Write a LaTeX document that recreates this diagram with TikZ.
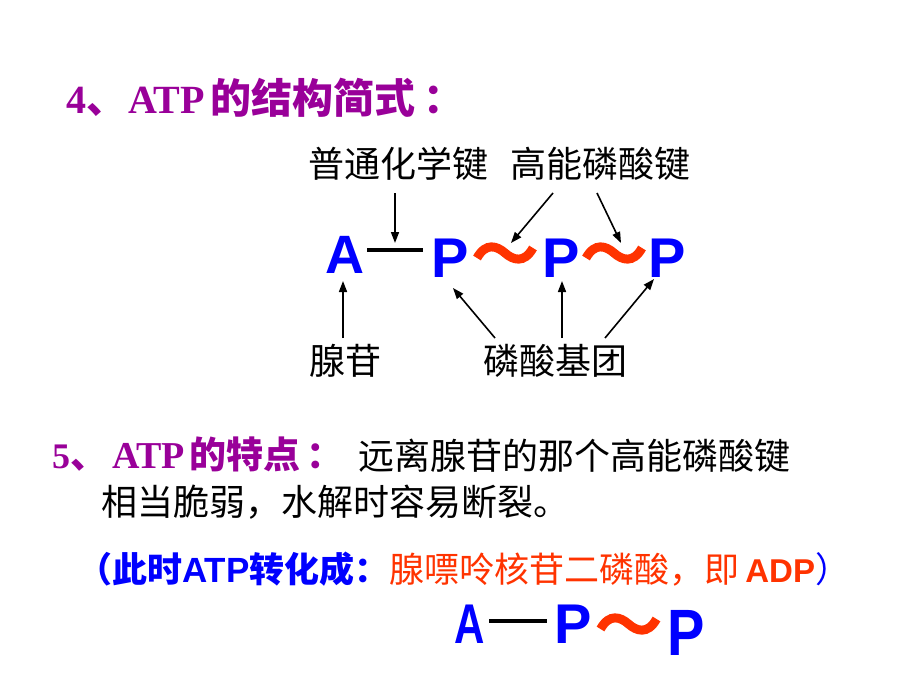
\documentclass[tikz,border=0pt]{standalone}
\usepackage{fontspec}
\setmainfont{Liberation Serif}
\newfontfamily\cjk{Noto Sans CJK SC}
\newfontfamily\arialf{Liberation Sans}
\newfontfamily\tnr{Liberation Serif}
\usetikzlibrary{arrows.meta}
\definecolor{ttlpurple}{RGB}{153,0,153}
\definecolor{atpblue}{RGB}{0,0,255}
\definecolor{wavered}{RGB}{255,51,0}
\tikzset{
  txt/.style={inner sep=0pt, outer sep=0pt},
  lbl/.style={txt, anchor=base, font=\cjk\fontsize{36}{40}\selectfont},
  letter/.style={txt, anchor=base, text=atpblue},
  arr/.style={line width=1.6pt, -{Stealth[length=11pt,width=8pt,inset=0pt]}},
  bondline/.style={line width=4pt},
  pics/wave/.style={code={
    \draw[wavered, line width=9pt]
      (-28,5) .. controls (-19,-11) and (-8,-7) .. (0,0)
      .. controls (8,7) and (19,11) .. (28,-5);
  }}
}
\begin{document}
\begin{tikzpicture}[x=1pt,y=-1pt]
\useasboundingbox (0,0) rectangle (920,690);
\fill[white] (0,0) rectangle (920,690);

% title 4
\node[txt, anchor=base west, text=ttlpurple] (t4) at (66,113.5)
  {\fontsize{40}{42}\selectfont\tnr\bfseries 4{\cjk\bfseries 、}\hspace{2pt}ATP\hspace{5pt}{\cjk\bfseries\fontsize{41}{42}\selectfont 的结构简式\hspace{8pt}：}};

% labels
\node[lbl] (lab1) at (398,177.5) {普通化学键};
\node[lbl] (lab2) at (600,177.5) {高能磷酸键};
\node[lbl] (lab3) at (345,374.5) {腺苷};
\node[lbl] (lab4) at (555,374.5) {磷酸基团};

% formula ATP
\node[letter, font=\arialf\bfseries\fontsize{54}{56}\selectfont] (A1) at (345,273) {A};
\node[letter, font=\arialf\bfseries\fontsize{56}{60}\selectfont] (P1) at (450,277) {P};
\node[letter, font=\arialf\bfseries\fontsize{56}{60}\selectfont] (P2) at (561,277) {P};
\node[letter, font=\arialf\bfseries\fontsize{56}{60}\selectfont] (P3) at (667,277) {P};
\coordinate (b1s) at (367,250);
\coordinate (b1e) at (423,250);
\draw[bondline] (b1s) -- (b1e);
\pic at (505,253) {wave};
\pic at (614,253) {wave};

% arrows
\coordinate (s1) at (395,193); \coordinate (e1) at (395,243);
\coordinate (s2) at (553,193); \coordinate (e2) at (511,243);
\coordinate (s3) at (597,193); \coordinate (e3) at (621,243);
\coordinate (s4) at (343,338); \coordinate (e4) at (343,281);
\coordinate (s5) at (495,338); \coordinate (e5) at (453,288);
\coordinate (s6) at (562,338); \coordinate (e6) at (562,281);
\coordinate (s7) at (605,338); \coordinate (e7) at (654,279);
\draw[arr] (s1) -- (e1);
\draw[arr] (s2) -- (e2);
\draw[arr] (s3) -- (e3);
\draw[arr] (s4) -- (e4);
\draw[arr] (s5) -- (e5);
\draw[arr] (s6) -- (e6);
\draw[arr] (s7) -- (e7);

% section 5
\node[txt, anchor=base west, text=ttlpurple] (t5) at (52,468)
  {\fontsize{36}{38}\selectfont\tnr\bfseries 5{\cjk\bfseries\fontsize{37}{38}\selectfont 、}\hspace{5pt}{\fontsize{38}{40}\selectfont ATP}\hspace{4pt}{\cjk\bfseries\fontsize{37}{38}\selectfont 的特点\hspace{6pt}：}};
\node[txt, anchor=base west, font=\cjk\fontsize{36}{40}\selectfont] (l1) at (358.5,469.5) {远离腺苷的那个高能磷酸键};
\node[txt, anchor=base west, font=\cjk\fontsize{36}{40}\selectfont] (l2) at (101.5,515.5) {相当脆弱，水解时容易断裂。};

% ADP line
\node[txt, anchor=base west, text=atpblue] (l3) at (77,582.5)
  {\cjk\bfseries\fontsize{35}{38}\selectfont （此时{\arialf\bfseries\fontsize{35}{38}\selectfont ATP}转化成：\textcolor{wavered}{\mdseries 腺嘌呤核苷二磷酸，即\hspace{6pt}{\arialf\bfseries\fontsize{33}{36}\selectfont ADP}}\mdseries ）};

% formula ADP
\node[letter, font=\arialf\bfseries\fontsize{56}{60}\selectfont, xscale=0.75] (A2) at (470,643) {A};
\coordinate (b2s) at (489,621);
\coordinate (b2e) at (547,621);
\draw[bondline] (b2s) -- (b2e);
\node[letter, font=\arialf\bfseries\fontsize{56}{60}\selectfont] (P4) at (573,643) {P};
\pic at (628.5,624) {wave};
\node[letter, font=\arialf\bfseries\fontsize{56}{60}\selectfont, yscale=1.17] (P5) at (686,655) {P};
\end{tikzpicture}
\end{document}
